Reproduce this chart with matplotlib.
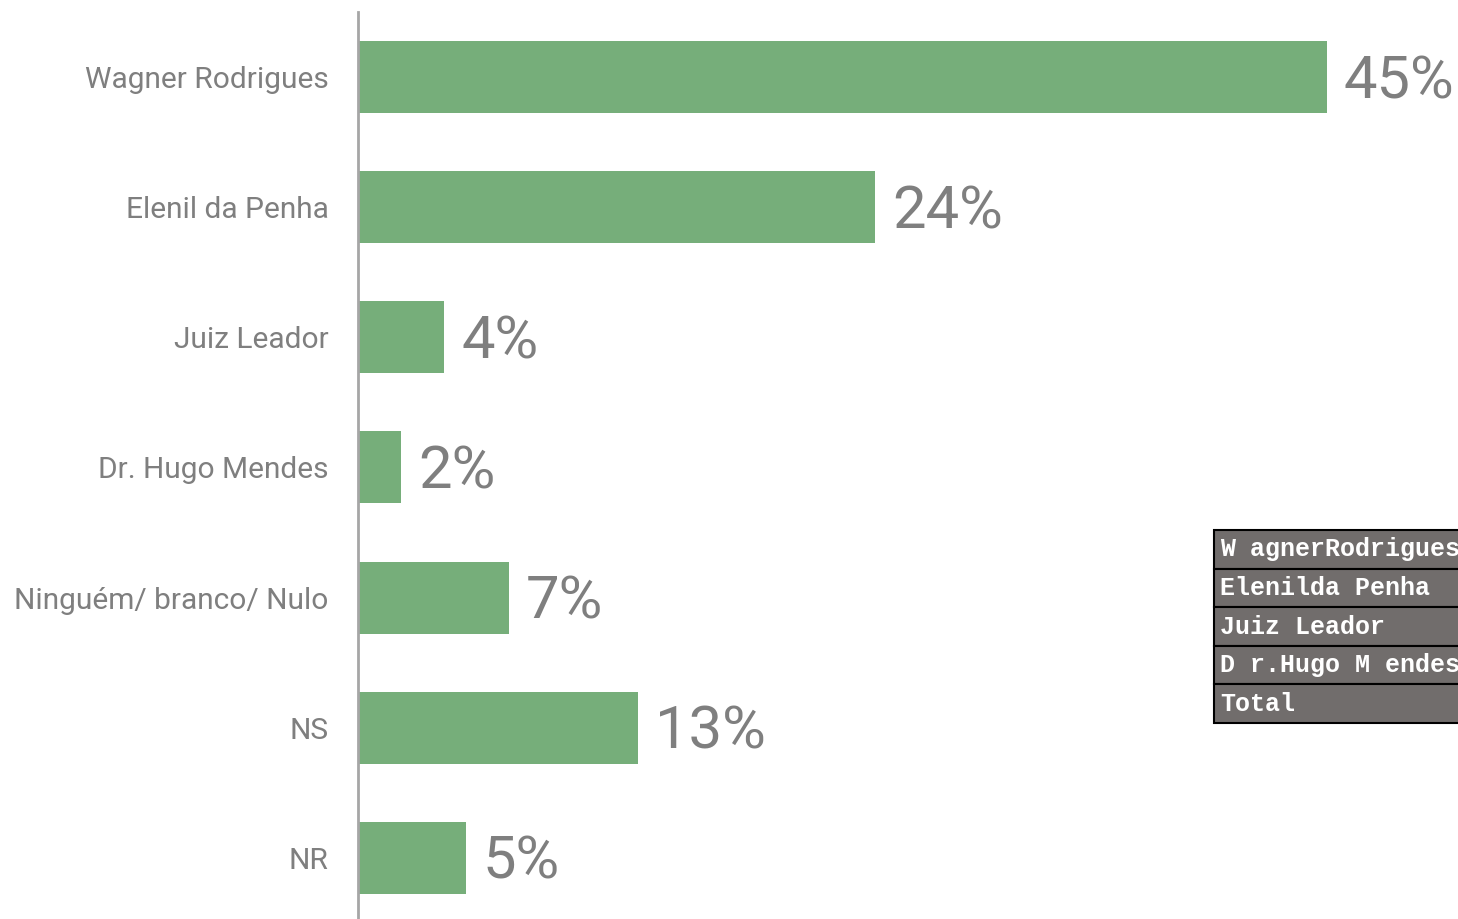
import matplotlib
matplotlib.use("Agg")
import matplotlib.pyplot as plt
from matplotlib.patches import Rectangle

candidates = ["Wagner Rodrigues", "Elenil da Penha", "Juiz Leador", "Dr. Hugo Mendes",
              "Ninguém/ branco/ Nulo", "NS", "NR"]
shares = [45, 24, 4, 2, 7, 13, 5]
table_rows = ["W agnerRodrigues", "Elenilda Penha", "Juiz Leador", "D r.Hugo M endes", "Total"]

bar_color = "#76ae7a"
text_gray = "#7f7f7f"

fig = plt.figure(figsize=(14.58, 9.19), dpi=100)
ax = fig.add_axes([358 / 1458, 0, 1100 / 1458, 907 / 919])

pos = list(range(len(candidates)))
ax.barh(pos, shares, height=0.553, color=bar_color, left=0)
ax.set_xlim(0, 51.1)
ax.set_ylim(6.47, -0.5)

for p, v in zip(pos, shares):
    ax.text(v + 0.8, p + 0.035, f"{v}%", va="center", ha="left", fontsize=43,
            color=text_gray, family="Roboto")

ax.set_yticks(pos)
ax.set_yticklabels(candidates, fontsize=21.5, color=text_gray, family="Roboto")
ax.tick_params(axis="y", length=0, pad=21)
ax.set_xticks([])
for s in ["top", "right", "bottom"]:
    ax.spines[s].set_visible(False)
ax.spines["left"].set_color("#a6a6a6")
ax.spines["left"].set_linewidth(2)

# small table box on the right
W, H = 1458, 919
row_h = 38.6
top = 530
for i, name in enumerate(table_rows):
    y0 = top + i * row_h
    fig.patches.append(Rectangle((1214 / W, 1 - (y0 + row_h) / H), 300 / W, row_h / H,
                                 transform=fig.transFigure, facecolor="#716d6c",
                                 edgecolor="black", linewidth=1.5))
    fig.text(1220 / W, 1 - (y0 + row_h / 2) / H, name, ha="left", va="center",
             fontsize=18, color="white", weight="bold", family="Liberation Mono")

plt.savefig("out.png")
